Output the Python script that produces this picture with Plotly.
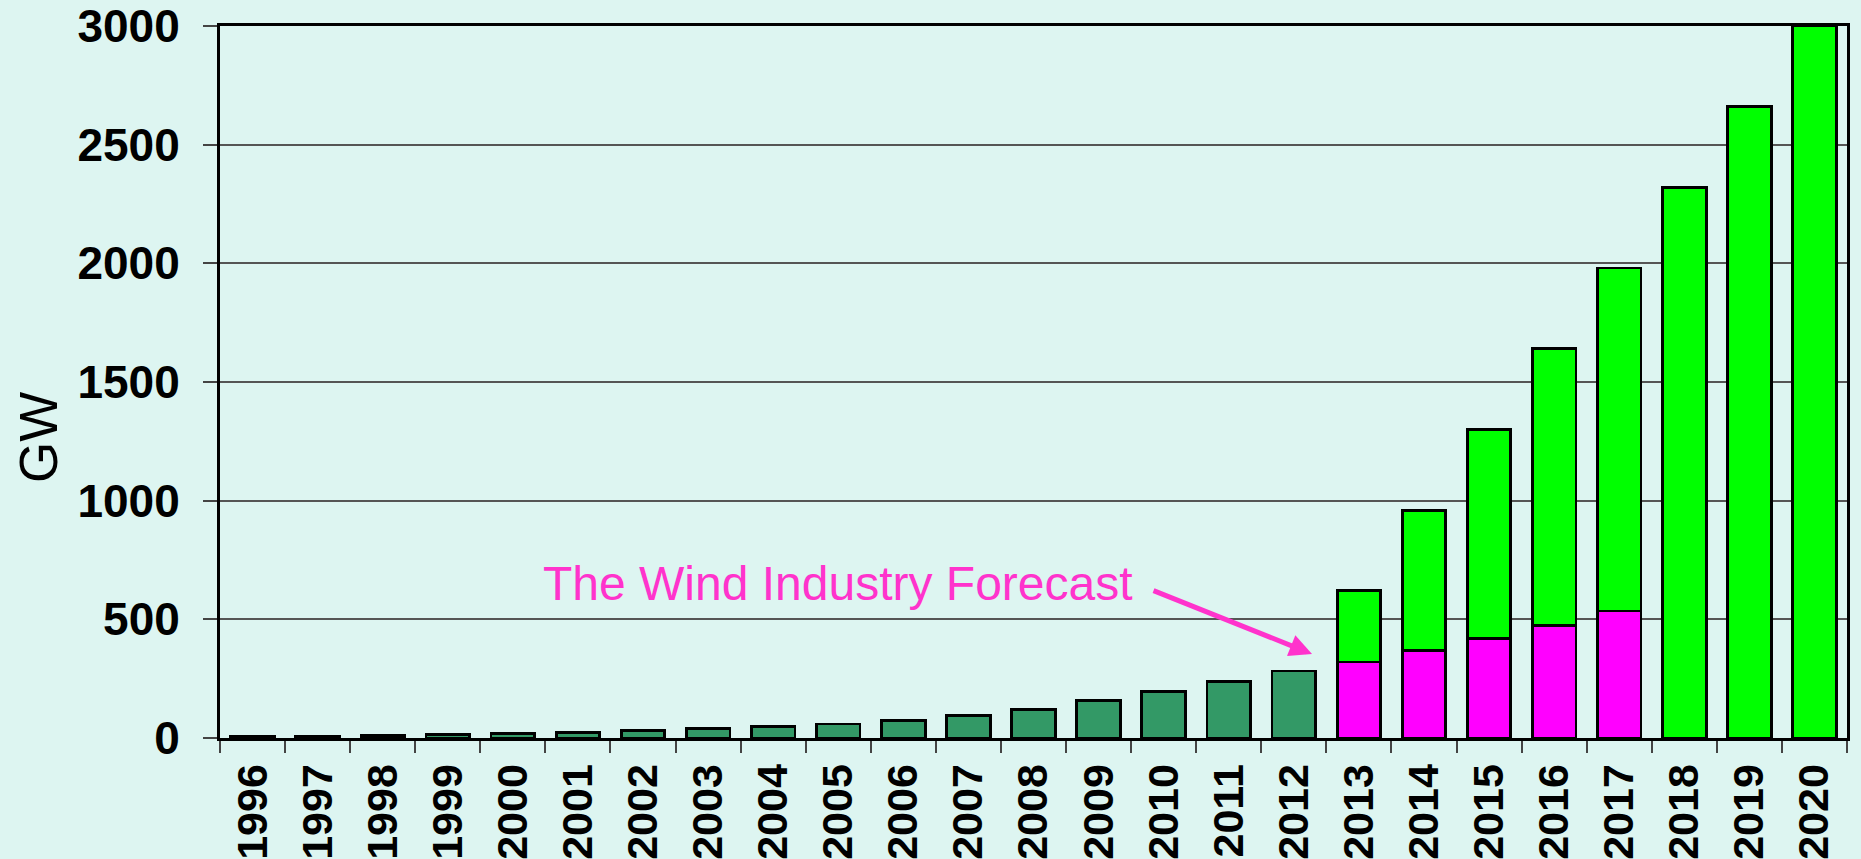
import plotly.graph_objects as go

# Cumulative installed wind capacity (GW), 1996-2012
hist_years = ["1996", "1997", "1998", "1999", "2000", "2001", "2002", "2003", "2004",
              "2005", "2006", "2007", "2008", "2009", "2010", "2011", "2012"]
hist_gw = [6.1, 7.6, 10.2, 13.6, 17.4, 23.9, 31.1, 39.4, 47.6,
           59.1, 74.0, 93.8, 120.3, 158.9, 197.6, 238.1, 282.5]

# Projection years
fc_years = ["2013", "2014", "2015", "2016", "2017", "2018", "2019", "2020"]
# Industry forecast (magenta) for 2013-2017
industry_years = ["2013", "2014", "2015", "2016", "2017"]
industry_gw = [320, 370, 420, 475, 535]
# Total projected capacity (bar top) 2013-2020
total_gw = [620, 960, 1300, 1640, 1980, 2320, 2660, 3000]

y_ticks = [0, 500, 1000, 1500, 2000, 2500, 3000]
all_years = hist_years + fc_years

BG = "#DDF5F1"
FONT = "Arial, Liberation Sans, sans-serif"

# green segment sits on top of the industry forecast where one exists
industry_map = dict(zip(industry_years, industry_gw))
green_top = [t - industry_map.get(y, 0) for y, t in zip(fc_years, total_gw)]

outline = dict(color="black", width=2.8)

fig = go.Figure()
fig.add_bar(x=hist_years, y=hist_gw, marker=dict(color="#339966", line=outline),
            name="Installed")
fig.add_bar(x=industry_years, y=industry_gw, marker=dict(color="#FF00FF", line=outline),
            name="Industry forecast")
fig.add_bar(x=fc_years, y=green_top, marker=dict(color="#00FF00", line=outline),
            name="Projection")

fig.update_layout(
    width=1861, height=859,
    barmode="stack", bargap=0.33,
    showlegend=False,
    paper_bgcolor=BG, plot_bgcolor=BG,
    margin=dict(l=220, r=14, t=26, b=121, autoexpand=False),
    font=dict(family=FONT, color="black"),
)

fig.update_xaxes(
    type="category", categoryorder="array", categoryarray=all_years,
    tickson="boundaries", ticks="outside", ticklen=12, tickwidth=1.5, tickcolor="#444",
    tickangle=-90, ticklabelstandoff=6,
    tickfont=dict(size=43, weight="bold", family=FONT, color="black"),
    showline=True, linecolor="black", linewidth=3, mirror=True,
    showgrid=False, automargin=False,
)

fig.update_yaxes(
    range=[0, 3000], tickvals=y_ticks,
    ticks="outside", ticklen=14, tickwidth=1.5, tickcolor="#444",
    ticklabelstandoff=14,
    tickfont=dict(size=46, weight="bold", family=FONT, color="black"),
    showline=True, linecolor="black", linewidth=3, mirror=True,
    showgrid=True, gridcolor="#555", gridwidth=1.5, zeroline=False,
    automargin=False,
)

# Y-axis unit label
fig.add_annotation(
    x=-0.1112, y=0.4216, xref="paper", yref="paper",
    text="GW", showarrow=False, textangle=-90,
    font=dict(size=53, family=FONT, color="black"),
    xanchor="center", yanchor="middle",
)

# Forecast label and pointer
fig.add_annotation(
    x=9.0, y=650, xref="x", yref="y",
    text="The Wind Industry Forecast", showarrow=False,
    font=dict(size=48, family=FONT, color="#FF33CC"),
    xanchor="center", yanchor="middle",
)
fig.add_annotation(
    x=16.28, y=354, xref="x", yref="y",
    text="", showarrow=True, ax=-160, ay=-64,
    arrowhead=2, arrowsize=0.9, arrowwidth=5, arrowcolor="#FF33CC",
)

fig.write_html("out.html")
